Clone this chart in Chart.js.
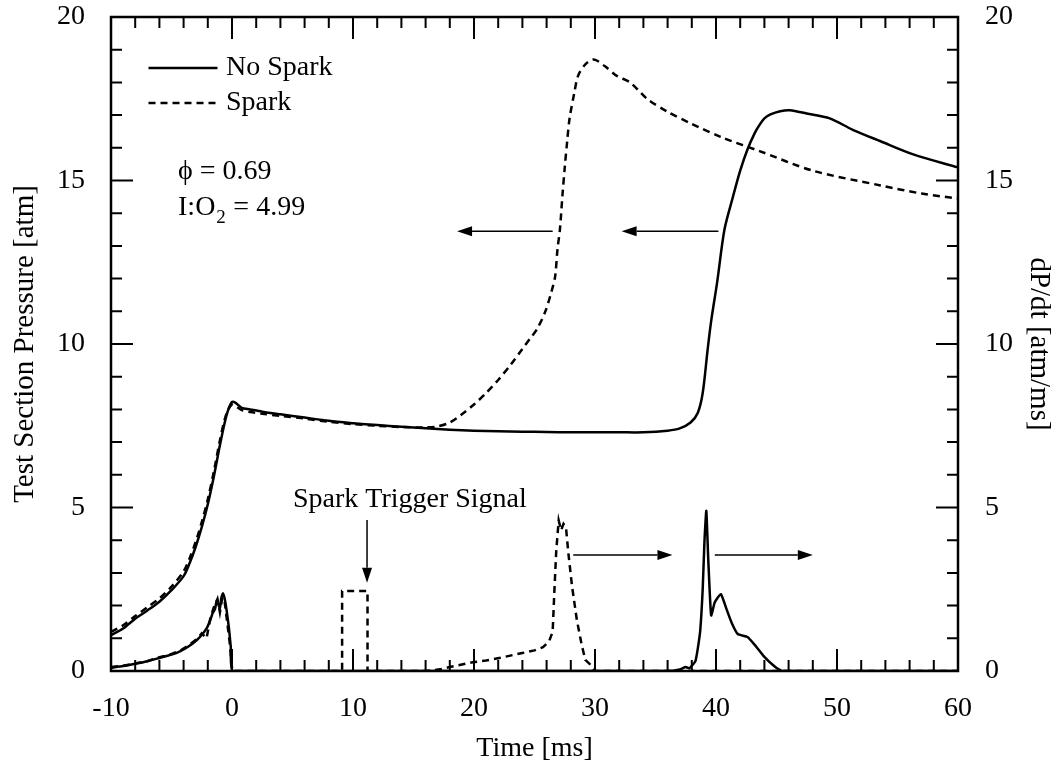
<!DOCTYPE html>
<html>
<head>
<meta charset="utf-8">
<script src="https://cdn.jsdelivr.net/npm/chart.js@4.4.1/dist/chart.umd.min.js"></script>
<style>
    html, body { margin: 0; padding: 0; background: #fff; }
    canvas { display: block; }
</style>
</head>
<body>
<canvas id="pressureChart" width="1061" height="769"></canvas>
<script>
// pressure traces (left axis, atm)
const noSparkTime = [-10, -9, -8, -7, -6, -5, -4, -3.5, -3, -2.5, -2, -1.5, -1, -0.6, -0.3, 0, 0.3, 0.8, 1.5, 2.5, 4, 6, 8, 10, 12, 14, 16, 18, 20, 22, 24, 26, 28, 30, 32, 34, 36, 37, 37.9, 38.5, 38.9, 39.3, 39.6, 40.1, 40.7, 41.4, 42.0, 42.6, 43.2, 43.6, 44.0, 44.5, 45.3, 46.1, 47.5, 49.4, 51.3, 53.6, 56.3, 60];
const noSparkPressure = [1.1, 1.3, 1.6, 1.85, 2.12, 2.47, 2.9, 3.3, 3.8, 4.4, 5.1, 5.95, 6.9, 7.6, 8.0, 8.23, 8.2, 8.05, 8.0, 7.93, 7.85, 7.75, 7.65, 7.58, 7.52, 7.47, 7.42, 7.38, 7.35, 7.33, 7.32, 7.31, 7.3, 7.3, 7.3, 7.3, 7.35, 7.42, 7.6, 7.9, 8.5, 9.8, 10.7, 11.9, 13.5, 14.5, 15.3, 15.95, 16.45, 16.7, 16.9, 17.02, 17.12, 17.15, 17.05, 16.9, 16.55, 16.2, 15.8, 15.4];

const sparkTime = [-10, -9, -8, -7, -6, -5, -4, -3.5, -3, -2.5, -2, -1.5, -1, -0.6, -0.3, 0, 0.3, 0.8, 1.5, 2.5, 4, 6, 8, 10, 12, 14, 16, 17, 18, 19, 20, 21, 22, 23, 24, 24.6, 25.2, 25.9, 26.4, 26.7, 26.9, 27.1, 27.3, 27.5, 27.7, 27.9, 28.3, 28.6, 29.2, 29.9, 30.8, 31.8, 32.9, 34.3, 36, 37.9, 40.6, 43.6, 48, 53.6, 57, 60];
const sparkPressure = [1.2, 1.4, 1.68, 1.95, 2.22, 2.58, 3.05, 3.45, 3.95, 4.55, 5.25, 6.1, 7.05, 7.7, 8.0, 8.15, 8.1, 7.98, 7.92, 7.87, 7.8, 7.72, 7.62, 7.55, 7.5, 7.46, 7.45, 7.48, 7.6, 7.85, 8.15, 8.5, 8.9, 9.35, 9.85, 10.15, 10.45, 11.0, 11.6, 12.05, 12.9, 13.5, 14.5, 15.4, 16.2, 16.9, 17.7, 18.2, 18.55, 18.7, 18.5, 18.2, 18.0, 17.5, 17.1, 16.75, 16.3, 15.9, 15.3, 14.85, 14.6, 14.45];

// dP/dt traces (right axis, atm/ms)
const noSparkRateTime = [-10, -9, -8, -7, -6, -5, -4.3, -3.6, -2.9, -2.5, -2.1, -1.8, -1.6, -1.4, -1.25, -1.0, -0.9, -0.74, -0.6, -0.45, -0.25, -0.1, 0.05, 5, 10, 20, 30, 36, 37, 37.5, 37.8, 38.1, 38.3, 38.5, 38.7, 38.9, 39.05, 39.2, 39.35, 39.6, 39.9, 40.4, 40.9, 41.3, 41.8, 42.6, 43.2, 44.0, 44.9, 45.5, 50, 60];
const noSparkRate = [0.1, 0.15, 0.22, 0.3, 0.4, 0.5, 0.6, 0.75, 0.95, 1.1, 1.3, 1.55, 1.77, 1.9, 2.17, 1.9, 2.2, 2.38, 2.2, 1.87, 1.3, 0.73, 0, 0, 0, 0, 0, 0, 0.05, 0.12, 0.08, 0.2, 0.3, 0.7, 1.25, 2.5, 4.0, 4.9, 3.5, 1.7, 2.1, 2.35, 1.86, 1.47, 1.13, 1.04, 0.8, 0.43, 0.12, 0, 0, 0];

const sparkRateTime = [-10, -9, -8, -7, -6, -5, -4.3, -3.6, -2.9, -2.5, -2.1, -1.8, -1.5, -1.2, -1.0, -0.8, -0.6, -0.4, -0.2, 0, 0.1, 9.1, 9.1, 11.2, 11.2, 16, 17.2, 18, 19, 19.9, 21, 22.1, 23, 24, 25, 25.7, 26.2, 26.5, 26.65, 26.8, 27.0, 27.2, 27.4, 27.6, 27.8, 28.1, 28.5, 28.9, 29.2, 29.6, 30, 60];
const sparkRate = [0.12, 0.16, 0.23, 0.3, 0.42, 0.52, 0.62, 0.78, 0.98, 1.15, 1.0, 1.6, 1.95, 2.2, 1.8, 2.25, 2.1, 1.5, 0.9, 0.1, 0, 0, 2.45, 2.45, 0, 0, 0.05, 0.12, 0.2, 0.27, 0.32, 0.4, 0.47, 0.55, 0.63, 0.73, 0.9, 1.2, 2.5, 3.7, 4.6, 4.3, 4.5, 4.4, 3.6, 2.6, 1.56, 0.8, 0.34, 0.2, 0, 0];

const timeTicks = [-10, 0, 10, 20, 30, 40, 50, 60];
const pressureTicks = [0, 5, 10, 15, 20];

const serif = '"Liberation Serif", "Times New Roman", serif';

function toPoints(xs, ys) {
    return xs.map((t, i) => ({ x: t, y: ys[i] }));
}

function drawArrow(ctx, x1, y1, x2, y2) {
    const ang = Math.atan2(y2 - y1, x2 - x1);
    const len = 15;
    const half = 5;
    ctx.beginPath();
    ctx.moveTo(x1, y1);
    ctx.lineTo(x2 - Math.cos(ang) * len, y2 - Math.sin(ang) * len);
    ctx.stroke();
    ctx.beginPath();
    ctx.moveTo(x2, y2);
    ctx.lineTo(x2 - Math.cos(ang) * len - Math.sin(ang) * half, y2 - Math.sin(ang) * len + Math.cos(ang) * half);
    ctx.lineTo(x2 - Math.cos(ang) * len + Math.sin(ang) * half, y2 - Math.sin(ang) * len - Math.cos(ang) * half);
    ctx.closePath();
    ctx.fill();
}

// frame with inward ticks on all four sides + annotations
const frameAndNotes = {
    id: 'frameAndNotes',
    afterDatasetsDraw(chart) {
        const { ctx, chartArea: a, scales } = chart;
        const x = scales.x;
        const y = scales.y;
        ctx.save();
        ctx.strokeStyle = '#000';
        ctx.fillStyle = '#000';
        ctx.lineWidth = 2.5;
        ctx.strokeRect(a.left, a.top, a.right - a.left, a.bottom - a.top);

        ctx.lineWidth = 2;
        ctx.beginPath();
        for (let t = -10; t <= 60; t += 2) {
            const px = x.getPixelForValue(t);
            const len = t % 10 === 0 ? 22 : 11;
            ctx.moveTo(px, a.bottom);
            ctx.lineTo(px, a.bottom - len);
            ctx.moveTo(px, a.top);
            ctx.lineTo(px, a.top + len);
        }
        for (let v = 0; v <= 20; v += 1) {
            const py = y.getPixelForValue(v);
            const len = v % 5 === 0 ? 22 : 11;
            ctx.moveTo(a.left, py);
            ctx.lineTo(a.left + len, py);
            ctx.moveTo(a.right, py);
            ctx.lineTo(a.right - len, py);
        }
        ctx.stroke();

        // arrows pointing to the axes
        ctx.lineWidth = 1.5;
        const px = (t) => x.getPixelForValue(t);
        const py = (v) => y.getPixelForValue(v);
        drawArrow(ctx, px(26.5), py(13.45), px(18.6), py(13.45));
        drawArrow(ctx, px(40.2), py(13.45), px(32.2), py(13.45));
        drawArrow(ctx, px(28.2), py(3.55), px(36.4), py(3.55));
        drawArrow(ctx, px(39.9), py(3.55), px(48.0), py(3.55));
        drawArrow(ctx, px(11.16), py(4.62), px(11.16), py(2.7));

        // legend
        ctx.lineWidth = 2.5;
        ctx.beginPath();
        ctx.moveTo(px(-6.9), py(18.44));
        ctx.lineTo(px(-1.2), py(18.44));
        ctx.stroke();
        ctx.setLineDash([7, 5]);
        ctx.beginPath();
        ctx.moveTo(px(-6.9), py(17.37));
        ctx.lineTo(px(-1.2), py(17.37));
        ctx.stroke();
        ctx.setLineDash([]);

        ctx.font = '28px ' + serif;
        ctx.textBaseline = 'middle';
        ctx.textAlign = 'left';
        ctx.fillText('No Spark', px(-0.5), py(18.44));
        ctx.fillText('Spark', px(-0.5), py(17.37));

        ctx.fillText('\u03D5 = 0.69', px(-4.46), py(15.26));
        const base = px(-4.46);
        ctx.fillText('I:O', base, py(14.16));
        const w = ctx.measureText('I:O').width;
        ctx.font = '19px ' + serif;
        ctx.fillText('2', base + w + 1, py(14.16) + 10);
        ctx.font = '28px ' + serif;
        ctx.fillText(' = 4.99', base + w + 11, py(14.16));

        ctx.textAlign = 'center';
        ctx.fillText('Spark Trigger Signal', px(14.7), py(5.23));
        ctx.restore();
    },
};

const solid = { borderColor: '#000', borderWidth: 2.5, pointRadius: 0, fill: false };
const dashed = { borderColor: '#000', borderWidth: 2.5, pointRadius: 0, fill: false, borderDash: [7, 5] };

// fixed axis boxes so the plot area sits where the original one does
function fitY(width) {
    return (s) => {
        s.width = width;
        s.paddingTop = 0;
        s.paddingBottom = 0;
    };
}

function loadChart() {
    new Chart(document.getElementById('pressureChart').getContext('2d'), {
        type: 'line',
        data: {
            datasets: [
                Object.assign({ label: 'No Spark', data: toPoints(noSparkTime, noSparkPressure), yAxisID: 'y', tension: 0.3 }, solid),
                Object.assign({ label: 'Spark', data: toPoints(sparkTime, sparkPressure), yAxisID: 'y', tension: 0.3 }, dashed),
                Object.assign({ label: 'No Spark dP/dt', data: toPoints(noSparkRateTime, noSparkRate), yAxisID: 'y1', tension: 0.15 }, solid),
                Object.assign({ label: 'Spark dP/dt', data: toPoints(sparkRateTime, sparkRate), yAxisID: 'y1', tension: 0 }, dashed),
            ],
        },
        options: {
            responsive: false,
            animation: false,
            devicePixelRatio: 1,
            layout: { padding: { top: 17, left: 0, right: 0, bottom: 0 } },
            plugins: { legend: { display: false }, tooltip: { enabled: false } },
            scales: {
                x: {
                    type: 'linear',
                    min: -10,
                    max: 60,
                    afterFit: (s) => { s.height = 98; },
                    afterBuildTicks: (s) => { s.ticks = timeTicks.map((v) => ({ value: v })); },
                    grid: { display: false, drawTicks: false },
                    border: { display: false },
                    ticks: { color: '#000', padding: 21, maxRotation: 0, font: { family: serif, size: 28 } },
                    title: { display: true, text: 'Time [ms]', color: '#000', padding: { top: 0, bottom: 4 }, font: { family: serif, size: 28 } },
                },
                y: {
                    type: 'linear',
                    position: 'left',
                    min: 0,
                    max: 20,
                    afterFit: fitY(111),
                    afterBuildTicks: (s) => { s.ticks = pressureTicks.map((v) => ({ value: v })); },
                    grid: { display: false, drawTicks: false },
                    border: { display: false },
                    ticks: { color: '#000', padding: 26, font: { family: serif, size: 28 } },
                    title: { display: true, text: 'Test Section Pressure [atm]', color: '#000', padding: { top: 8, bottom: 0 }, font: { family: serif, size: 29 } },
                },
                y1: {
                    type: 'linear',
                    position: 'right',
                    min: 0,
                    max: 20,
                    afterFit: fitY(103),
                    afterBuildTicks: (s) => { s.ticks = pressureTicks.map((v) => ({ value: v })); },
                    grid: { display: false, drawTicks: false },
                    border: { display: false },
                    ticks: { color: '#000', padding: 27, font: { family: serif, size: 28 } },
                    title: { display: true, text: 'dP/dt [atm/ms]', color: '#000', padding: { top: 5, bottom: 0 }, font: { family: serif, size: 29 } },
                },
            },
        },
        plugins: [frameAndNotes],
    });
}

loadChart();
</script>
</body>
</html>
